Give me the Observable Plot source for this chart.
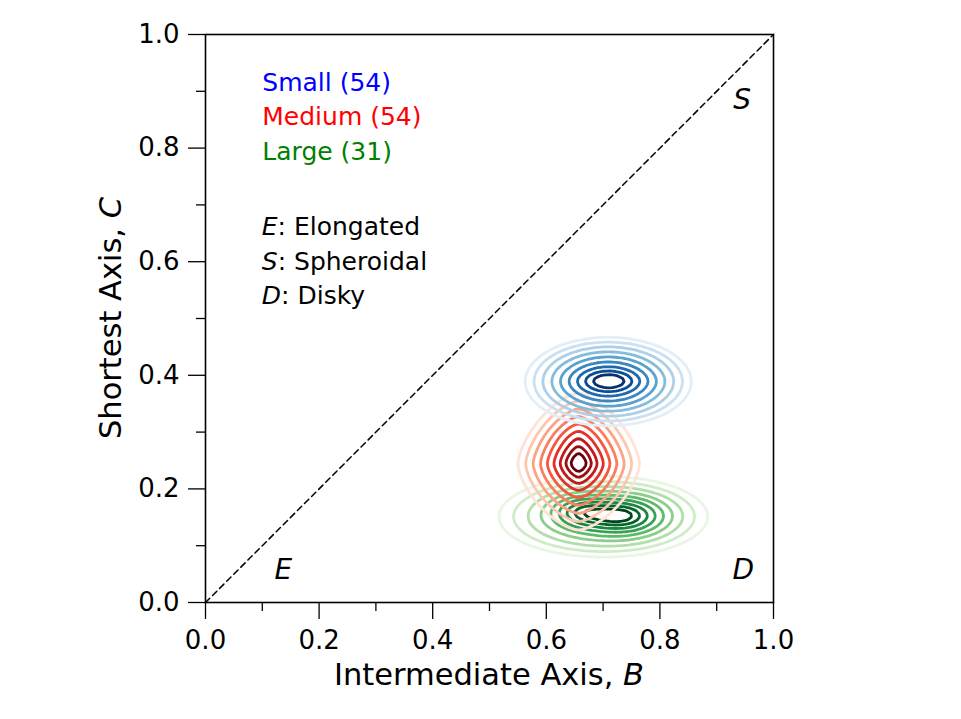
<!DOCTYPE html>
<html><head><meta charset="utf-8">
<script src="https://cdn.jsdelivr.net/npm/d3@7"></script>
<script src="https://cdn.jsdelivr.net/npm/@observablehq/plot@0.6"></script>
<style>body{margin:0;background:#fff;} #chart{width:961px;height:719px;}</style>
</head><body><div id="chart"></div>
<script>
// ---- axes ----
const majorTicks = [0, 0.2, 0.4, 0.6, 0.8, 1.0];
const minorTicks = [0.1, 0.3, 0.5, 0.7, 0.9];

// ---- groups / legend ----
const groupNames = ["Small", "Medium", "Large"];
const groupCounts = [54, 54, 31];
const groupTextColors = ["#0000ff", "#ff0000", "#008000"];
const legendX = 0.1;
const legendY = [0.914, 0.855, 0.794];

const keyLetters = ["E", "S", "D"];
const keyWords = [": Elongated", ": Spheroidal", ": Disky"];
const keyY = [0.661, 0.600, 0.540];

const cornerLetters = ["E", "S", "D"];
const cornerX = [0.137, 0.945, 0.947];
const cornerY = [0.058, 0.884, 0.058];

// ---- density components (center, spread, weight, shape exponent) ----
const smallCx = [0.709, 0.712], smallCy = [0.389, 0.390], smallSx = [0.062, 0.040], smallSy = [0.033, 0.013], smallW = [1, 0.25], smallP = 2;
const mediumCx = [0.657, 0.656], mediumCy = [0.244, 0.290], mediumSx = [0.034, 0.024], mediumSy = [0.037, 0.030], mediumW = [1, 0.14], mediumP = 1.55;
const largeCx = [0.735, 0.662, 0.700], largeCy = [0.153, 0.160, 0.151], largeSx = [0.042, 0.032, 0.088], largeSy = [0.019, 0.017, 0.034], largeW = [1, 0.65, 0.8], largeP = 2;

// contour levels as fractions of each group's peak density
const levelFractions = [0.05, 0.088, 0.146, 0.23, 0.339, 0.472, 0.619, 0.763, 0.887];

function makeDensity(cx, cy, sx, sy, w, p) {
  return (x, y) => {
    let s = 0;
    for (let i = 0; i < cx.length; i++) {
      const dx = Math.abs((x - cx[i]) / sx[i]), dy = Math.abs((y - cy[i]) / sy[i]);
      s += w[i] * Math.exp(-0.5 * (Math.pow(dx, p) + Math.pow(dy, p)));
    }
    return s;
  };
}
function peakOf(f) {
  let m = 0;
  for (let i = 0; i <= 500; i++) for (let j = 0; j <= 500; j++) {
    const v = f(i / 500, j / 500); if (v > m) m = v;
  }
  return m;
}

const groupDefs = [
  {f: makeDensity(largeCx, largeCy, largeSx, largeSy, largeW, largeP), interp: d3.interpolateGreens},
  {f: makeDensity(mediumCx, mediumCy, mediumSx, mediumSy, mediumW, mediumP), interp: d3.interpolateReds},
  {f: makeDensity(smallCx, smallCy, smallSx, smallSy, smallW, smallP), interp: d3.interpolateBlues}
];

const contourMarks = [];
for (const g of groupDefs) {
  const peak = peakOf(g.f);
  levelFractions.forEach((fr, i) => {
    const t = 0.1 + 0.9 * i / (levelFractions.length - 1);
    contourMarks.push(Plot.contour({
      x1: 0, x2: 1, y1: 0, y2: 1,
      value: g.f,
      thresholds: [fr * peak],
      pixelSize: 3,
      fill: "none",
      stroke: g.interp(t),
      strokeWidth: 2.8
    }));
  });
}

const diag = [{x: 0, y: 0}, {x: 1, y: 1}];

const plot = Plot.plot({
  width: 961, height: 719,
  marginLeft: 205, marginRight: 188, marginTop: 34, marginBottom: 117,
  style: {fontFamily: "DejaVu Sans", fontSize: "25px", color: "black", background: "white"},
  x: {domain: [0, 1]},
  y: {domain: [0, 1]},
  marks: [
    ...contourMarks,
    Plot.line(diag, {x: "x", y: "y", stroke: "black", strokeWidth: 1.5, strokeDasharray: "6,4"}),
    Plot.frame({stroke: "black", strokeWidth: 1.6}),
    Plot.axisX({ticks: majorTicks, tickSize: 17, tickPadding: 11, tickFormat: d3.format(".1f"), fontSize: 26, label: null, strokeWidth: 1.3}),
    Plot.axisX({ticks: minorTicks, tickSize: 9, tickFormat: null, text: null, label: null, strokeWidth: 1.3}),
    Plot.axisY({ticks: majorTicks, tickSize: 17, tickPadding: 9, tickFormat: d3.format(".1f"), fontSize: 26, label: null, strokeWidth: 1.3}),
    Plot.axisY({ticks: minorTicks, tickSize: 9, tickFormat: null, text: null, label: null, strokeWidth: 1.3}),
    Plot.text(cornerLetters, {x: (d, i) => cornerX[i], y: (d, i) => cornerY[i], text: d => d, fontSize: 28, fontStyle: "italic", fill: "black"}),
    Plot.text(groupNames, {x: () => legendX, y: (d, i) => legendY[i], text: (d, i) => `${d} (${groupCounts[i]})`, fill: (d, i) => groupTextColors[i], textAnchor: "start", fontSize: 25})
  ]
});
document.getElementById("chart").appendChild(plot);

// rich text (italic letters) positioned via the plot's scales
const X = plot.scale("x"), Y = plot.scale("y");
const svg = d3.select(plot);
keyLetters.forEach((L, i) => {
  const t = svg.append("text")
    .attr("x", X.apply(legendX)).attr("y", Y.apply(keyY[i])).attr("dy", "0.35em")
    .attr("text-anchor", "start")
    .attr("font-family", "DejaVu Sans").attr("font-size", 25).attr("fill", "black");
  t.append("tspan").attr("font-style", "italic").text(L);
  t.append("tspan").text(keyWords[i]);
});
const xl = svg.append("text")
  .attr("x", X.apply(0.5)).attr("y", Y.apply(0) + 72).attr("dy", "0.35em")
  .attr("text-anchor", "middle").attr("font-family", "DejaVu Sans").attr("font-size", 30.5).attr("fill", "black");
xl.append("tspan").text("Intermediate Axis, ");
xl.append("tspan").attr("font-style", "italic").text("B");
const yx = X.apply(0) - 95, yy = Y.apply(0.5);
const yl = svg.append("text")
  .attr("transform", `translate(${yx},${yy}) rotate(-90)`).attr("dy", "0.35em")
  .attr("text-anchor", "middle").attr("font-family", "DejaVu Sans").attr("font-size", 30.5).attr("fill", "black");
yl.append("tspan").text("Shortest Axis, ");
yl.append("tspan").attr("font-style", "italic").text("C");
</script>
</body></html>
